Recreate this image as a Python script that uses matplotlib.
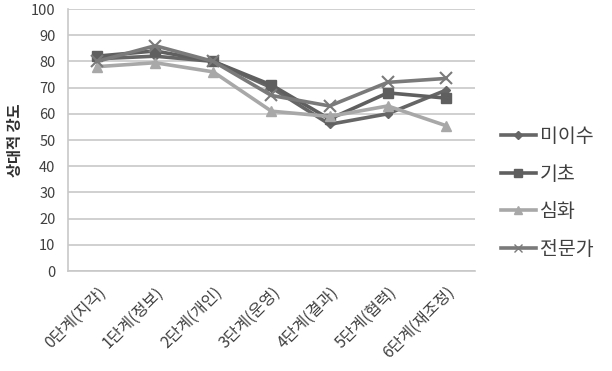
import matplotlib
matplotlib.use("Agg")
import matplotlib.pyplot as plt
from matplotlib.lines import Line2D

plt.rcParams['font.family'] = ['Noto Sans CJK KR', 'DejaVu Sans']

categories = ['0단계(지각)', '1단계(정보)', '2단계(개인)', '3단계(운영)',
              '4단계(결과)', '5단계(협력)', '6단계(재조정)']
series_names = ['미이수', '기초', '심화', '전문가']
miisu = [81, 82, 80, 70, 56, 60, 69]
gicho = [82, 84, 80, 71, 58, 68, 66]
simhwa = [78, 79.5, 76, 61, 59, 63, 55.5]
jeonmun = [80, 86, 80, 67, 63, 72, 73.5]
yticks = list(range(0, 101, 10))

fig = plt.figure(figsize=(6.12, 3.71), dpi=100)
ax = fig.add_axes([0.111, 0.2695, 0.665, 0.7062])

x = list(range(len(categories)))
styles = [
    (miisu, '#666666', 'D', 4.5),
    (gicho, '#5f5f5f', 's', 6.5),
    (simhwa, '#a8a8a8', '^', 7),
    (jeonmun, '#7a7a7a', 'x', 8),
]
handles = []
for (vals, col, mk, ms), name in zip(styles, series_names):
    ax.plot(x, vals, color=col, lw=2.6, marker=mk, ms=ms, mfc=col, mec=col,
            mew=1.5 if mk == 'x' else 1, zorder=3)
    handles.append(Line2D([0], [0], color=col, lw=2.6, marker=mk, ms=ms * 0.8,
                          mfc=col, mec=col, label=name))

ax.set_xlim(-0.5, len(categories) - 0.5)
ax.set_ylim(0, 100)
ax.set_yticks(yticks)
ax.set_yticklabels([str(t) for t in yticks], fontsize=10.5, color='#404040')
ax.set_xticks(x)
ax.set_xticklabels(categories, rotation=45, ha='right', rotation_mode='anchor',
                   fontsize=11.5, color='#404040')
ax.tick_params(axis='y', length=0, pad=9)
ax.tick_params(axis='x', length=0, pad=9)
ax.yaxis.grid(True, color='#c8c8c8', lw=1.2)
ax.set_axisbelow(True)
for s in ['top', 'right']:
    ax.spines[s].set_visible(False)
ax.spines['left'].set_color('#c8c8c8')
ax.spines['bottom'].set_color('#c8c8c8')
ax.spines['left'].set_linewidth(1.2)
ax.spines['bottom'].set_linewidth(1.2)

ax.set_ylabel('상대적 강도', fontsize=11, fontweight='bold', color='#303030', labelpad=6)

leg = fig.legend(handles=handles, loc='center left', bbox_to_anchor=(0.79, 0.48),
                 frameon=False, fontsize=14, handlelength=1.8, labelspacing=0.85,
                 handletextpad=0.2, labelcolor='#404040')

fig.savefig('out.png', dpi=100)
